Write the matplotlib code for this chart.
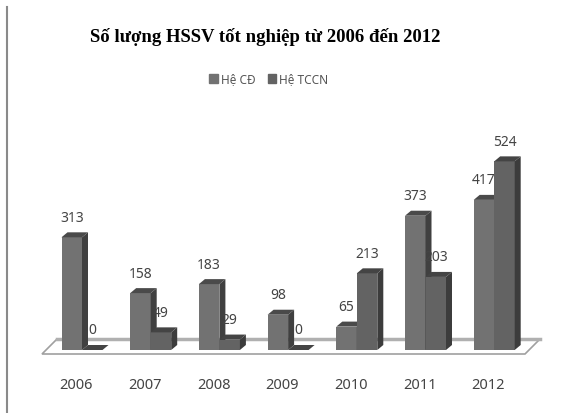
import matplotlib
matplotlib.use("Agg")
import matplotlib.pyplot as plt
from matplotlib.lines import Line2D
from matplotlib.patches import Patch, Polygon
import numpy as np

years = ["2006", "2007", "2008", "2009", "2010", "2011", "2012"]
he_cd = [313, 158, 183, 98, 65, 373, 417]
he_tccn = [0, 49, 29, 0, 213, 203, 524]

W, H = 573, 414
PX_X = 68.7   # px per category
PX_Y = 0.36   # px per student
BASE_X, BASE_Y, AX_BOTTOM = 82, 351, 368
BAR_W = 20.5 / PX_X
DX, DY = 6 / PX_X, 5 / PX_Y
TEXT = "#444444"
LABEL_FONT = ["Noto Sans", "DejaVu Sans"]


def bar3d(ax, x, h, front, side, top):
    ax.bar(x, h, BAR_W, align="edge", color=front, zorder=3)
    ax.add_patch(Polygon([(x + BAR_W, 0), (x + BAR_W + DX, DY), (x + BAR_W + DX, h + DY), (x + BAR_W, h)],
                         color=side, lw=0, zorder=3))
    ax.add_patch(Polygon([(x, h), (x + DX, h + DY), (x + BAR_W + DX, h + DY), (x + BAR_W, h)],
                         color=top, lw=0, zorder=3))


fig = plt.figure(figsize=(W / 100, H / 100), dpi=100)
ax = fig.add_axes([0, (H - AX_BOTTOM) / H, 1, AX_BOTTOM / H])
ax.set_xlim(-BASE_X / PX_X, (W - BASE_X) / PX_X)
ax.set_ylim((BASE_Y - AX_BOTTOM) / PX_Y, BASE_Y / PX_Y)

# san phang cua bieu do 3D
front_y, back_y = -4 / PX_Y, 11 / PX_Y
left, right = -40 / PX_X, 443 / PX_X
skew = 15 / PX_X
ax.add_patch(Polygon([(left, front_y), (left + skew, back_y), (right + skew, back_y), (right, front_y)],
                     fc="white", ec="#a0a0a0", lw=1.2, zorder=1))
ax.plot([left + skew, right + skew], [back_y, back_y], color="#b0b0b0", lw=2.5, zorder=1.5)

for i in range(len(years)):
    bar3d(ax, i - BAR_W, he_cd[i], "#727272", "#404040", "#4a4a4a")
    bar3d(ax, i, he_tccn[i], "#636363", "#3c3c3c", "#444444")
    ax.annotate(str(he_cd[i]), (i - BAR_W / 2, he_cd[i]), xytext=(0, 14.4), textcoords="offset points",
                ha="center", va="center", fontsize=10, color=TEXT, family=LABEL_FONT, zorder=5)
    ax.annotate(str(he_tccn[i]), (i + BAR_W / 2, he_tccn[i]), xytext=(0, 14.4), textcoords="offset points",
                ha="center", va="center", fontsize=10, color=TEXT, family=LABEL_FONT, zorder=5)

ax.set_xticks(np.arange(len(years)) - 0.085)
ax.set_xticklabels(years, fontsize=10.5, color=TEXT, family=LABEL_FONT)
ax.tick_params(axis="x", length=0, pad=7)
ax.set_yticks([])
for s in ax.spines.values():
    s.set_visible(False)
ax.patch.set_visible(False)

fig.text(265 / W, 1 - 37 / H, "Số lượng HSSV tốt nghiệp từ 2006 đến 2012", ha="center", va="center",
         fontsize=13.5, fontweight="bold", family="Liberation Serif", color="black")

handles = [Patch(color="#727272", label="Hệ CĐ"), Patch(color="#636363", label="Hệ TCCN")]
fig.legend(handles=handles, loc="center", bbox_to_anchor=(269 / W, 1 - 80 / H), ncol=2, frameon=False,
           labelcolor="#555555", handlelength=0.7, handleheight=0.7, handletextpad=0.3,
           columnspacing=1.0, prop={"family": LABEL_FONT, "size": 8.5})

fig.add_artist(Line2D([7 / W, 7 / W], [0, 1 - 8 / H], color="#8a8a8a", lw=1.5))

fig.savefig("out.png", dpi=100)
